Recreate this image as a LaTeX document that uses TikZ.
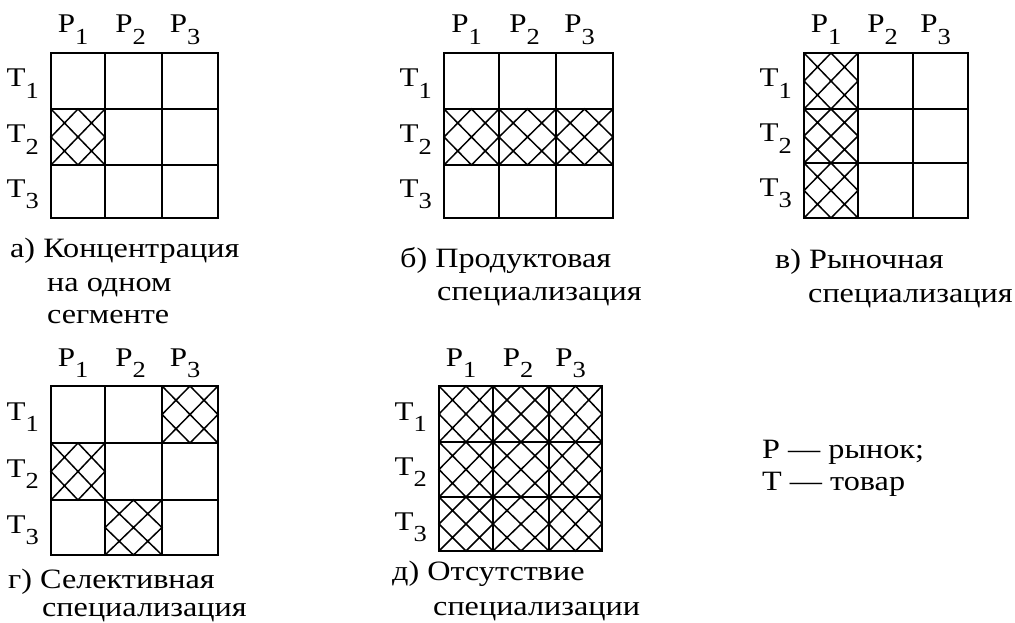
\documentclass[tikz,border=0pt]{standalone}
\usepackage{fontspec}
\setmainfont{Liberation Serif}[FakeStretch=1.15]
\usetikzlibrary{calc}
\tikzset{
  gridline/.style={line width=1.5pt},
  hatch/.style={line width=1.5pt},
  lbl/.style={inner sep=0pt, font=\fontsize{27}{30}\selectfont},
  captxt/.style={inner sep=0pt, anchor=base west, font=\fontsize{28}{30}\selectfont},
}
\newcommand\sbs[1]{\raisebox{-0.42em}{\fontsize{23}{23}\selectfont #1}}
% grid: id, x0..x3, y0..y3
\newcommand\mgrid[9]{%
  \draw[gridline] (#2,#6) rectangle (#5,#9);
  \draw[gridline] (#3,#6) -- (#3,#9) (#4,#6) -- (#4,#9)
                  (#2,#7) -- (#5,#7) (#2,#8) -- (#5,#8);
  \node[lbl,anchor=base] (#1p1) at ({(#2+#3)/2-5},{#6-20}) {Р\sbs{1}};
  \node[lbl,anchor=base] (#1p2) at ({(#3+#4)/2-3},{#6-20}) {Р\sbs{2}};
  \node[lbl,anchor=base] (#1p3) at ({(#4+#5)/2-5},{#6-20}) {Р\sbs{3}};
  \node[lbl,anchor=base east] (#1t1) at ({#2-12},{(#6+#7)/2+6}) {Т\sbs{1}};
  \node[lbl,anchor=base east] (#1t2) at ({#2-12},{(#7+#8)/2+6}) {Т\sbs{2}};
  \node[lbl,anchor=base east] (#1t3) at ({#2-12},{(#8+#9)/2+6}) {Т\sbs{3}};
}
% hatched cell: x0,y0,x1,y1
\newcommand\hcell[4]{%
  \draw[hatch] (#1,#2) -- (#3,#4) (#3,#2) -- (#1,#4)
    ({(#1+#3)/2},#2) -- (#3,{(#2+#4)/2}) -- ({(#1+#3)/2},#4) -- (#1,{(#2+#4)/2}) -- cycle;
}
\begin{document}
\begin{tikzpicture}[x=1pt,y=-1pt]
\useasboundingbox[fill=white] (0,0) rectangle (1015,623);
% a
\hcell{51}{109}{105}{165}
\mgrid{a}{51}{105}{162}{218}{53}{109}{165}{218}
\node[captxt] (ca1) at (10,257) {а) Концентрация};
\node[captxt] (ca2) at (47,291) {на одном};
\node[captxt] (ca3) at (47,323) {сегменте};
% b
\hcell{444}{109}{499}{165}
\hcell{499}{109}{556}{165}
\hcell{556}{109}{613}{165}
\mgrid{b}{444}{499}{556}{613}{53}{109}{165}{218}
\node[captxt] (cb1) at (400,267) {б) Продуктовая};
\node[captxt] (cb2) at (437,300) {специализация};
% v
\hcell{804}{53}{858}{109}
\hcell{804}{109}{858}{163}
\hcell{804}{163}{858}{218}
\mgrid{v}{804}{858}{913}{968}{53}{109}{163}{218}
\node[captxt] (cv1) at (775,268) {в) Рыночная};
\node[captxt] (cv2) at (808,302) {специализация};
% g
\hcell{162}{386}{218}{443}
\hcell{51}{443}{105}{500}
\hcell{105}{500}{162}{555}
\mgrid{g}{51}{105}{162}{218}{386}{443}{500}{555}
\node[captxt] (cg1) at (8,588) {г) Селективная};
\node[captxt] (cg2) at (42,616) {специализация};
% d
\foreach \xa/\xb in {439/493,493/549,549/602}
  \foreach \ya/\yb in {386/442,442/497,497/551}
    {\hcell{\xa}{\ya}{\xb}{\yb}}
\mgrid{d}{439}{493}{549}{602}{386}{442}{497}{551}
\node[captxt] (cd1) at (392,580) {д) Отсутствие};
\node[captxt] (cd2) at (433,615) {специализации};
% legend
\node[captxt] (legp) at (762,458) {Р — рынок;};
\node[captxt] (legt) at (762,490) {Т — товар};
\end{tikzpicture}
\end{document}
